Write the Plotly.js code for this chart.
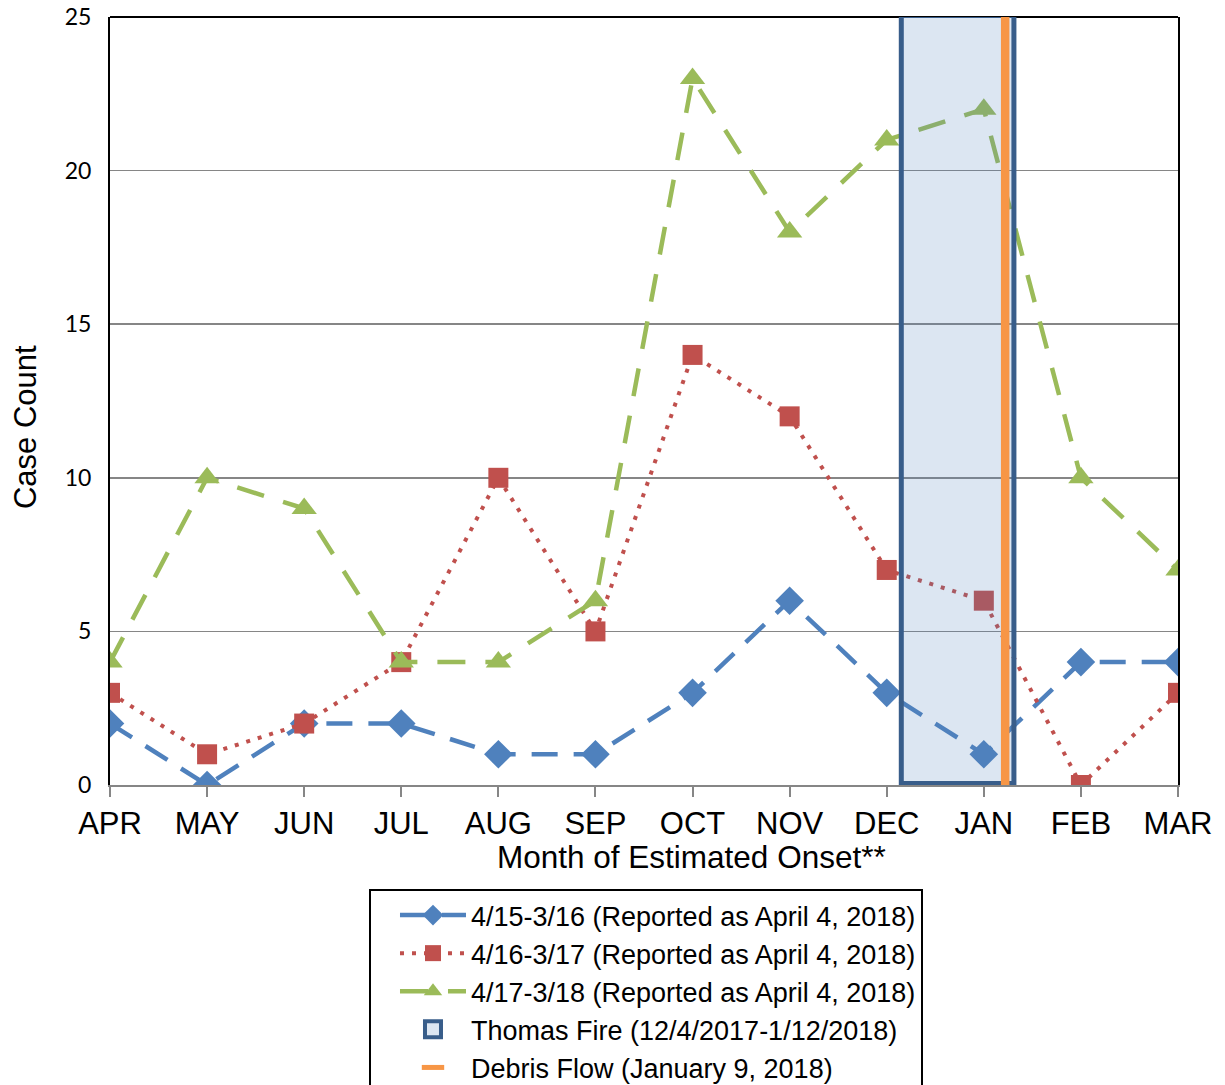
<!DOCTYPE html>
<html>
<head>
<meta charset="utf-8">
<script src="https://cdn.plot.ly/plotly-3.0.1.min.js"></script>
<style>html,body{margin:0;padding:0;background:#fff;}#chart{width:1225px;height:1085px;}</style>
</head>
<body>
<div id="chart"></div>
<script>
var months = ["APR","MAY","JUN","JUL","AUG","SEP","OCT","NOV","DEC","JAN","FEB","MAR"];
var series1516 = [2,0,2,2,1,1,3,6,3,1,4,4];
var series1617 = [3,1,2,4,10,5,14,12,7,6,0,3];
var series1718 = [4,10,9,4,4,6,23,18,21,22,10,7];
var seriesNames = [
  "4/15-3/16 (Reported as April 4, 2018)",
  "4/16-3/17 (Reported as April 4, 2018)",
  "4/17-3/18 (Reported as April 4, 2018)"
];
// event positions on the month axis (fractional month index)
var fireStart = 8.15, fireEnd = 9.31, debrisFlow = 9.22;
var fireName = "Thomas Fire (12/4/2017-1/12/2018)";
var debrisName = "Debris Flow (January 9, 2018)";
var xTitle = "Month of Estimated Onset**";
var yTitle = "Case Count";

var xIdx = months.map(function(m, i){ return i; });
var F = "Liberation Sans, Arial, sans-serif";

var traces = [
  {x: xIdx, y: series1516, name: seriesNames[0], mode: "lines+markers",
   line: {color: "#4F81BD", width: 4.5, dash: "26px,16px"},
   marker: {symbol: "diamond", size: 22, color: "#4F81BD"}},
  {x: xIdx, y: series1617, name: seriesNames[1], mode: "lines+markers",
   line: {color: "#C0504D", width: 4, dash: "4px,8px"},
   marker: {symbol: "square", size: 20, color: "#C0504D"}},
  {x: xIdx, y: series1718, name: seriesNames[2], mode: "lines+markers",
   line: {color: "#9BBB59", width: 4.5, dash: "28px,20px"},
   marker: {symbol: "triangle-up", size: 22, color: "#9BBB59"}},
  {x: [null], y: [null], name: fireName, mode: "markers",
   marker: {symbol: "square", size: 26, color: "#DCE6F2", line: {color: "#385D8A", width: 4}}},
  {x: [null], y: [null], name: debrisName, mode: "markers",
   marker: {symbol: "line-ew-open", size: 24, color: "#F79646", line: {color: "#F79646", width: 8}}}
];

var layout = {
  width: 1225, height: 1085,
  margin: {l: 110, r: 47, t: 17, b: 300, autoexpand: false},
  paper_bgcolor: "#fff", plot_bgcolor: "#fff",
  showlegend: true,
  font: {family: F, color: "#000"},
  xaxis: {
    range: [0, 11], tickmode: "array", tickvals: xIdx, ticktext: months,
    tickfont: {family: F, size: 31, color: "#000"},
    showgrid: false, zeroline: false,
    showline: true, linecolor: "#868686", linewidth: 2,
    ticks: "outside", ticklen: 10, tickcolor: "#868686", tickwidth: 2
  },
  yaxis: {
    range: [0, 25], dtick: 5, tick0: 0,
    tickfont: {family: "Lato, Liberation Sans, sans-serif", size: 23, color: "#000"},
    showgrid: true, gridcolor: "#868686", gridwidth: 1.5,
    zeroline: false, showline: true, linecolor: "#000", linewidth: 2, mirror: true,
    ticks: "", ticklabelstandoff: 12
  },
  annotations: [
    {text: xTitle, xref: "paper", yref: "paper", x: 0.5449, y: -0.09375,
     xanchor: "center", yanchor: "middle", showarrow: false,
     font: {family: F, size: 31.5, color: "#000"}},
    {text: yTitle, xref: "paper", yref: "paper", x: -0.0796, y: 0.466,
     xanchor: "center", yanchor: "middle", showarrow: false, textangle: -90,
     font: {family: F, size: 31, color: "#000"}}
  ],
  legend: {
    x: 0.2425, xanchor: "left", y: -0.1354, yanchor: "top",
    bordercolor: "#000", borderwidth: 2, bgcolor: "#fff",
    font: {family: F, size: 27, color: "#000"},
    itemwidth: 66, indentation: 24, tracegroupgap: 0
  },
  shapes: [
    {type: "line", xref: "paper", yref: "paper", x0: 0, x1: 1, y0: 1, y1: 1,
     line: {color: "#000", width: 2}, layer: "above"},
    {type: "rect", xref: "x", yref: "y", x0: fireStart, x1: fireEnd, y0: 0.05, y1: 25.05,
     fillcolor: "rgba(79,129,189,0.2)", line: {color: "#385D8A", width: 5}, layer: "above"},
    {type: "line", xref: "x", yref: "y", x0: debrisFlow, x1: debrisFlow, y0: 0, y1: 25,
     line: {color: "#F79646", width: 8.5}, layer: "above"}
  ]
};

Plotly.newPlot("chart", traces, layout, {displayModeBar: false, staticPlot: true});
</script>
</body>
</html>
